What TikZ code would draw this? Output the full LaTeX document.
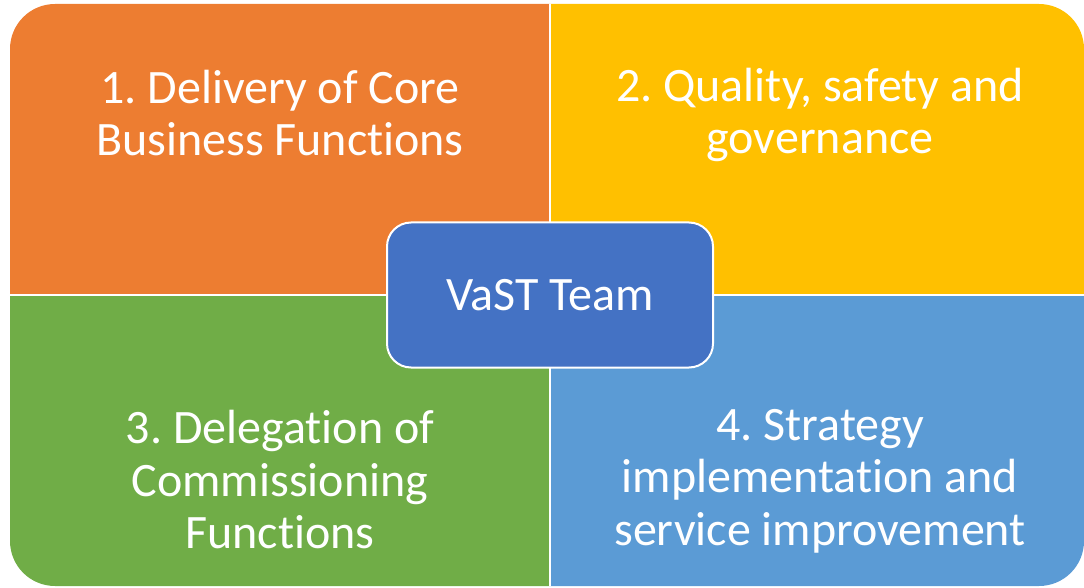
\documentclass[tikz,border=0pt]{standalone}
\usepackage{fontspec}
\setmainfont[Ligatures=NoCommon]{Carlito}
\usepackage{tikz}
\usetikzlibrary{positioning}
\definecolor{qorange}{HTML}{ED7D31}
\definecolor{qyellow}{HTML}{FFC000}
\definecolor{qgreen}{HTML}{70AD47}
\definecolor{qblue}{HTML}{5B9BD5}
\definecolor{hubblue}{HTML}{4472C4}
\frenchspacing

\begin{document}
\begin{tikzpicture}[
        x=1pt, y=-1pt,
        % Look of the four quarters and their texts
        quarter/.style={draw=white, line width=2pt},
        label/.style={text=white, align=center,
            font=\fontsize{48}{52.5}\selectfont},
        hub/.style={draw=white, line width=2pt, fill=hubblue,
            rounded corners=24pt, minimum width=326pt,
            minimum height=145pt, text=white,
            font=\fontsize{48}{52}\selectfont}
    ]
    \useasboundingbox (0,0) rectangle (1084,588);
    % Only the outer corners of the block are rounded
    \begin{scope}
        \clip[rounded corners=45pt] (10,4) rectangle (1084,586);
        \filldraw[quarter, fill=qorange] (0,0) rectangle (550,295);
        \filldraw[quarter, fill=qyellow] (550,0) rectangle (1090,295);
        \filldraw[quarter, fill=qgreen] (0,295) rectangle (550,590);
        \filldraw[quarter, fill=qblue] (550,295) rectangle (1090,590);
    \end{scope}
    \node[label] (delivery) at (280,113) {1. Delivery of Core\\Business Functions};
    \node[label] (quality) at (820,115) {2. Quality, safety and\\governance};
    \node[label] (delegation) at (280,480) {3. Delegation of\\Commissioning\\Functions};
    \node[label] (strategy) at (820,481) {4. Strategy\\implementation and\\service improvement};
    \node[hub] (team) at (550,295) {VaST Team};
\end{tikzpicture}
\end{document}
